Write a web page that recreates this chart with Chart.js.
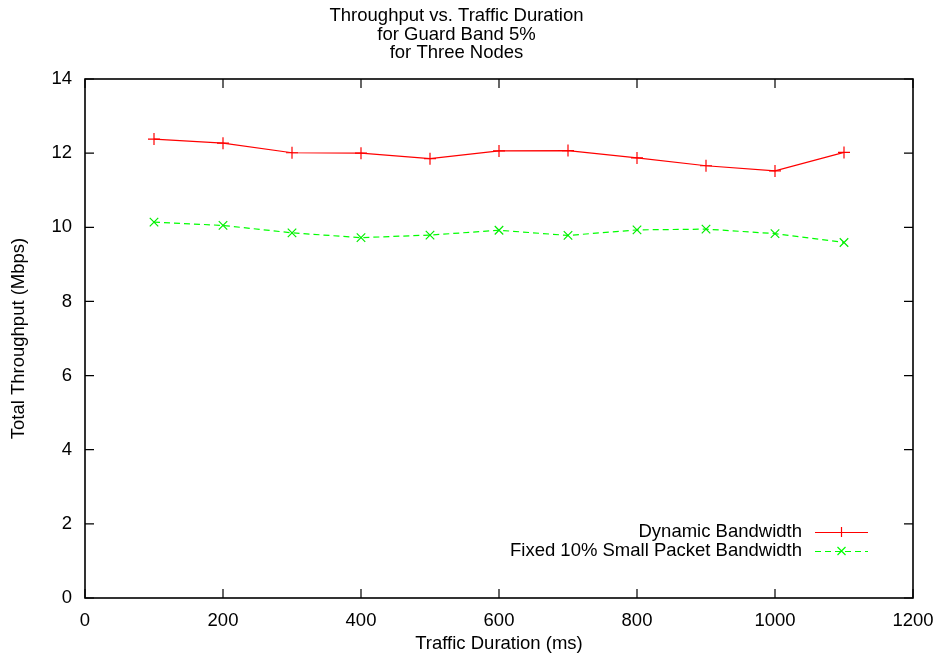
<!DOCTYPE html>
<html><head><meta charset="utf-8">
<script src="https://cdn.jsdelivr.net/npm/chart.js@4"></script>
<style>html,body{margin:0;padding:0;background:#fff}#wrap{width:938px;height:655px}</style>
</head><body><div id="wrap"><canvas id="c" width="938" height="655"></canvas></div>
<script>
const durations = [100, 200, 300, 400, 500, 600, 700, 800, 900, 1000, 1100];
const dynamicBandwidth = [12.38, 12.27, 12.01, 12.00, 11.85, 12.06, 12.07, 11.87, 11.66, 11.52, 12.02];
const fixedSmallPacket = [10.14, 10.05, 9.85, 9.72, 9.79, 9.92, 9.78, 9.93, 9.95, 9.83, 9.59];
const xTicks = [0, 200, 400, 600, 800, 1000, 1200];
const yTicks = [0, 2, 4, 6, 8, 10, 12, 14];
const titleLines = ['Throughput vs. Traffic Duration', 'for Guard Band 5%', 'for Three Nodes'];
const seriesNames = ['Dynamic Bandwidth', 'Fixed 10% Small Packet Bandwidth'];

const FONT = '"Liberation Sans", Helvetica, Arial, sans-serif';
const FS = 18.5;

const framePlugin = {
  id: 'frame',
  afterDraw(chart) {
    const {ctx, chartArea: a, scales: {x, y}} = chart;
    ctx.save();
    ctx.strokeStyle = '#000';
    ctx.lineWidth = 1.6;
    ctx.strokeRect(a.left, a.top, a.right - a.left, a.bottom - a.top);
    const L = 9;
    ctx.lineWidth = 1.2;
    ctx.beginPath();
    xTicks.forEach(v => {
      const px = x.getPixelForValue(v);
      ctx.moveTo(px, a.bottom); ctx.lineTo(px, a.bottom - L);
      ctx.moveTo(px, a.top); ctx.lineTo(px, a.top + L);
    });
    yTicks.forEach(v => {
      const py = y.getPixelForValue(v);
      ctx.moveTo(a.left, py); ctx.lineTo(a.left + L, py);
      ctx.moveTo(a.right, py); ctx.lineTo(a.right - L, py);
    });
    ctx.stroke();
    // legend
    ctx.font = FS + 'px ' + FONT;
    ctx.textAlign = 'right';
    ctx.textBaseline = 'middle';
    const rows = [532, 551];
    chart.data.datasets.forEach((ds, i) => {
      const ry = rows[i];
      ctx.fillStyle = '#000';
      ctx.fillText(seriesNames[i], 802, ry);
      ctx.strokeStyle = ds.borderColor;
      ctx.lineWidth = 1.2;
      ctx.setLineDash(ds.borderDash || []);
      ctx.beginPath(); ctx.moveTo(815, ry + 0.5); ctx.lineTo(868, ry + 0.5); ctx.stroke();
      ctx.setLineDash([]);
      const cx = 841.5, r = 5;
      ctx.beginPath();
      if (ds.pointStyle === 'cross') {
        ctx.moveTo(cx - r, ry + 0.5); ctx.lineTo(cx + r, ry + 0.5);
        ctx.moveTo(cx, ry - r); ctx.lineTo(cx, ry + r);
      } else {
        ctx.moveTo(cx - 4, ry - 4); ctx.lineTo(cx + 4, ry + 4);
        ctx.moveTo(cx - 4, ry + 4); ctx.lineTo(cx + 4, ry - 4);
      }
      ctx.stroke();
    });
    ctx.restore();
  }
};

new Chart(document.getElementById('c'), {
  type: 'line',
  data: {
    datasets: [
      {
        label: seriesNames[0],
        data: durations.map((d, i) => ({x: d, y: dynamicBandwidth[i]})),
        borderColor: '#ff0000', backgroundColor: '#ff0000',
        borderWidth: 1.2, pointStyle: 'cross', pointRadius: 6, pointBorderWidth: 1.2,
        pointBorderColor: '#ff0000', tension: 0, fill: false
      },
      {
        label: seriesNames[1],
        data: durations.map((d, i) => ({x: d, y: fixedSmallPacket[i]})),
        borderColor: '#00ff00', backgroundColor: '#00ff00',
        borderWidth: 1.2, borderDash: [6, 4], pointStyle: 'crossRot', pointRadius: 6, pointBorderWidth: 1.2,
        pointBorderColor: '#00ee00', tension: 0, fill: false
      }
    ]
  },
  options: {
    responsive: false, animation: false,
    layout: {padding: {left: 0, right: 25, top: 0, bottom: 0}},
    plugins: {
      legend: {display: false}, tooltip: {enabled: false},
      title: {display: true, text: titleLines, color: '#000', font: {family: FONT, size: FS, weight: 'normal', lineHeight: 1.0}, padding: {top: 7, bottom: 16.5}}
    },
    scales: {
      x: {
        type: 'linear', min: 0, max: 1200,
        afterBuildTicks: s => { s.ticks = xTicks.map(v => ({value: v})); },
        afterFit: s => { s.height = 57; s.paddingRight = 0; s.paddingLeft = 0; },
        grid: {display: false, drawTicks: false},
        border: {display: false},
        ticks: {color: '#000', font: {family: FONT, size: FS}, padding: 12, maxRotation: 0, callback: v => String(v)},
        title: {display: true, text: 'Traffic Duration (ms)', color: '#000', font: {family: FONT, size: FS}, padding: {top: 4, bottom: 0}}
      },
      y: {
        type: 'linear', min: 0, max: 14,
        afterBuildTicks: s => { s.ticks = yTicks.map(v => ({value: v})); },
        afterFit: s => { s.width = 85; },
        grid: {display: false, drawTicks: false},
        border: {display: false},
        ticks: {color: '#000', font: {family: FONT, size: FS}, padding: 13, callback: v => String(v)},
        title: {display: true, text: 'Total Throughput (Mbps)', color: '#000', font: {family: FONT, size: FS}, padding: {top: 8, bottom: 0}}
      }
    }
  },
  plugins: [framePlugin]
});
</script></body></html>
